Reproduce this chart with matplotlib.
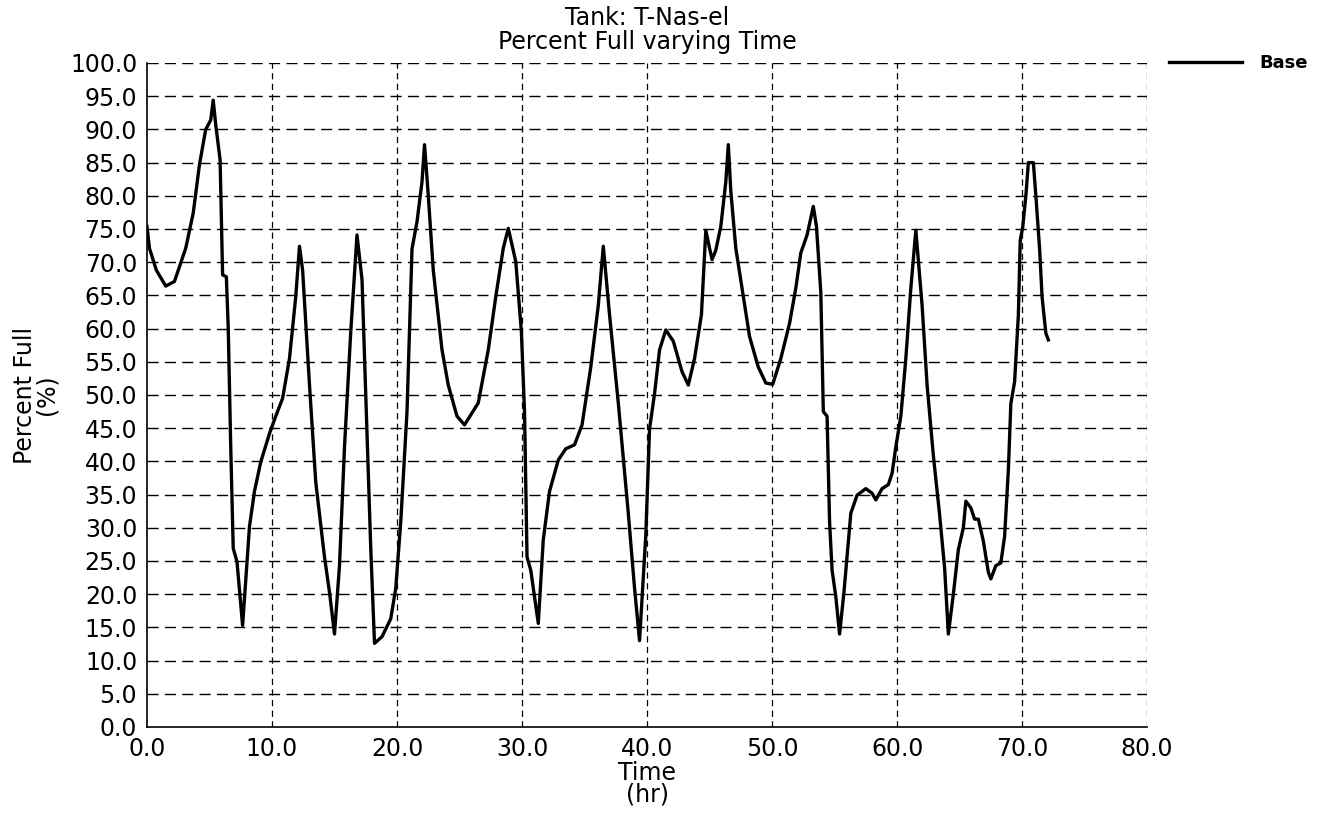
import matplotlib
matplotlib.use("Agg")
import matplotlib.pyplot as plt

# Tank T-Nas-el, percent full over 72 hours
time_hr = [0.0, 0.2, 0.75, 1.5, 2.2, 3.1, 3.7, 4.2, 4.7, 5.1,
           5.3, 5.5, 5.85, 6.05, 6.35, 6.5, 6.7, 6.9, 7.2, 7.65,
           8.2, 8.6, 9.1, 9.8, 10.3, 10.85, 11.4, 11.9, 12.2, 12.45,
           13.0, 13.5, 14.2, 14.6, 15.0, 15.4, 15.8, 16.3, 16.8, 17.2,
           17.6, 17.9, 18.2, 18.8, 19.5, 19.9, 20.3, 20.8, 21.2, 21.6,
           22.0, 22.2, 22.5, 22.9, 23.6, 24.1, 24.8, 25.4, 26.5, 27.3,
           27.9, 28.5, 28.9, 29.5, 29.95, 30.2, 30.4, 30.7, 31.3, 31.7,
           32.2, 32.9, 33.5, 34.2, 34.8, 35.5, 36.1, 36.5, 37.0, 37.7,
           38.5, 39.0, 39.4, 39.9, 40.2, 40.6, 41.0, 41.5, 42.1, 42.8,
           43.3, 43.8, 44.35, 44.7, 45.0, 45.2, 45.5, 45.9, 46.3, 46.5,
           46.7, 47.1, 47.7, 48.2, 48.9, 49.5, 50.05, 50.7, 51.4, 51.9,
           52.3, 52.8, 53.3, 53.55, 53.9, 54.1, 54.4, 54.6, 54.8, 55.1,
           55.4, 55.75, 56.3, 56.8, 57.5, 58.0, 58.3, 58.8, 59.3, 59.6,
           59.9, 60.3, 60.7, 61.1, 61.5, 62.0, 62.4, 62.9, 63.4, 63.8,
           64.1, 64.5, 64.9, 65.3, 65.5, 65.9, 66.2, 66.5, 66.9, 67.3,
           67.5, 67.9, 68.3, 68.6, 68.9, 69.1, 69.4, 69.7, 69.85, 70.05,
           70.3, 70.5, 70.9, 71.1, 71.4, 71.6, 71.9, 72.1]

pct_full = [75.4, 72.1, 68.8, 66.4, 67.1, 72.1, 77.4, 84.7, 90.0, 91.4,
            94.4, 90.7, 85.4, 68.1, 67.8, 60.1, 42.2, 26.9, 24.9, 15.3,
            30.2, 35.5, 39.9, 44.2, 46.8, 49.5, 55.5, 64.8, 72.4, 68.8,
            51.5, 36.9, 25.6, 20.3, 14.0, 24.3, 42.2, 59.5, 74.1, 67.4,
            44.2, 26.9, 12.6, 13.6, 16.3, 20.9, 30.9, 47.5, 72.0, 76.1,
            82.1, 87.7, 80.1, 68.8, 56.8, 51.5, 46.8, 45.5, 48.8, 56.8,
            64.8, 72.1, 75.1, 70.1, 59.5, 47.5, 25.6, 23.6, 15.6, 28.2,
            35.5, 40.2, 41.9, 42.5, 45.5, 54.2, 63.5, 72.4, 62.1, 48.8,
            32.2, 20.9, 13.0, 28.9, 44.9, 50.2, 56.8, 59.8, 58.1, 53.5,
            51.5, 55.5, 62.1, 74.8, 72.1, 70.4, 71.8, 75.4, 82.1, 87.7,
            80.7, 72.1, 64.8, 58.8, 54.2, 51.8, 51.6, 55.5, 60.8, 66.1,
            71.4, 74.1, 78.4, 75.4, 65.4, 47.5, 46.8, 30.9, 23.6, 19.6,
            14.0, 20.3, 32.2, 34.9, 35.9, 35.2, 34.2, 35.9, 36.5, 38.2,
            42.2, 46.8, 55.5, 66.1, 74.8, 63.5, 51.5, 40.9, 32.0, 24.0,
            14.0, 20.0, 26.7, 30.0, 34.0, 33.0, 31.3, 31.3, 28.0, 23.3,
            22.3, 24.3, 24.7, 28.7, 38.7, 48.7, 52.0, 62.0, 73.3, 75.3,
            80.0, 85.0, 85.0, 80.0, 72.0, 64.7, 59.3, 58.3]

x_ticks = [0, 10, 20, 30, 40, 50, 60, 70, 80]
y_ticks = [i * 5 for i in range(21)]

plt.rcParams['font.family'] = ['DejaVu Sans']

fig = plt.figure(figsize=(13.3, 8.15), dpi=100)
ax = fig.add_axes([0.1105, 0.108, 0.752, 0.8147])

ax.plot(time_hr, pct_full, color='black', linewidth=2.4, label='Base', zorder=3)

ax.set_xlim(0, 80)
ax.set_ylim(0, 100)
ax.set_xticks(x_ticks)
ax.set_yticks(y_ticks)
ax.set_xticklabels(['%.1f' % v for v in x_ticks])
ax.set_yticklabels(['%.1f' % v for v in y_ticks])
ax.tick_params(length=0, labelsize=17, pad=7)

# dashed grid, horizontal dashes longer than vertical ones
for y in y_ticks[1:]:
    ax.axhline(y, color='black', linewidth=1.0, dashes=(8, 4.5), zorder=1)
for x in x_ticks[1:]:
    ax.axvline(x, color='black', linewidth=0.9, dashes=(5, 3.5), zorder=1)

ax.spines['top'].set_visible(False)
ax.spines['right'].set_visible(False)
ax.spines['left'].set_linewidth(1.2)
ax.spines['bottom'].set_linewidth(1.2)

ax.set_title('Tank: T-Nas-el\nPercent Full varying Time', fontsize=17,
             linespacing=1.0, pad=10)
ax.set_xlabel('Time\n(hr)', fontsize=17, linespacing=0.9, labelpad=0)
ax.set_ylabel('Percent Full\n(%)', fontsize=17, linespacing=0.9, labelpad=8)

ax.legend(loc='center left', bbox_to_anchor=(1.006, 1.0), frameon=False,
          handlelength=4.0, handletextpad=1.0,
          prop={'weight': 'bold', 'size': 13})

fig.savefig('out.png', dpi=100, facecolor='white')
